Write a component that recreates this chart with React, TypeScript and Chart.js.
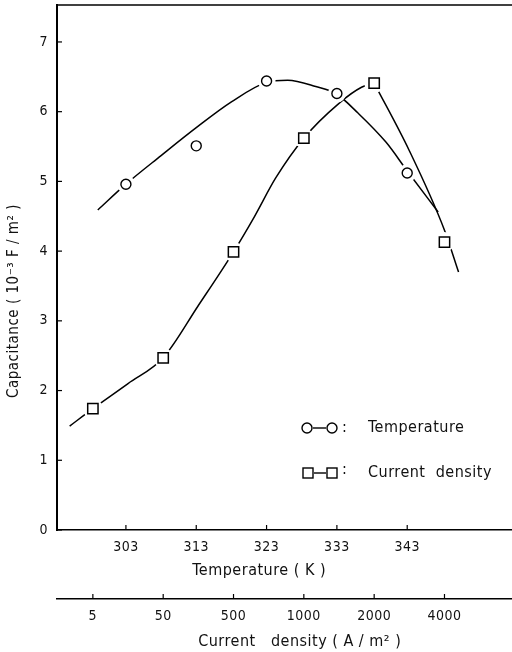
import React, { useEffect, useRef } from 'react';
import { Chart, registerables } from 'chart.js';

Chart.register(...registerables);

// ---- data ----
const temperatureTicks = [303, 313, 323, 333, 343];
const capacitanceTicks = [0, 1, 2, 3, 4, 5, 6, 7];
const currentDensityLabels = ['5', '50', '500', '1000', '2000', '4000'];

const temperatures = [303, 313, 323, 333, 343];
const tempCapacitance = [4.96, 5.51, 6.44, 6.26, 5.12];

const currentIndex = [0, 1, 2, 3, 4, 5];
const currentCapacitance = [1.74, 2.47, 3.99, 5.62, 6.41, 4.13];

// hand-drawn fitted curves
const tempFitX = [299.0, 303, 308, 313, 318, 323, 326, 330, 333, 336, 340, 343, 347.4];
const tempFitY = [4.59, 4.96, 5.37, 5.77, 6.14, 6.42, 6.45, 6.36, 6.25, 5.98, 5.56, 5.15, 4.56];

const currentRiseX = [-0.33, 0, 0.5, 1, 1.5, 2, 2.3, 2.6, 3, 3.5, 3.82, 4];
const currentRiseY = [1.49, 1.74, 2.1, 2.47, 3.22, 3.99, 4.5, 5.05, 5.62, 6.12, 6.35, 6.41];
const currentFallX = [4, 4.5, 5, 5.2];
const currentFallY = [6.41, 5.44, 4.3, 3.7];

const FONT = '"DejaVu Sans Condensed", "DejaVu Sans", sans-serif';
const INK = '#111';
const NB = '\u00A0';

const pts = (xs: number[], ys: number[]) => xs.map((x, i) => ({ x, y: ys[i] }));

const noPad = (s: any) => {
  s.paddingLeft = 0;
  s.paddingRight = 0;
  s.paddingTop = 0;
  s.paddingBottom = 0;
};

const framePlugin = {
  id: 'frame',
  beforeDraw(chart: any) {
    const ctx = chart.ctx;
    ctx.save();
    ctx.fillStyle = '#fff';
    ctx.fillRect(0, 0, chart.width, chart.height);
    ctx.restore();
    ctx.letterSpacing = '0.5px';
  },
  afterDraw(chart: any) {
    const ctx = chart.ctx;
    const area = chart.chartArea;
    ctx.save();
    ctx.strokeStyle = '#000';
    ctx.lineWidth = 1.5;
    // top frame line
    ctx.beginPath();
    ctx.moveTo(area.left - 1, area.top);
    ctx.lineTo(area.right, area.top);
    ctx.stroke();
    // inward tick marks
    ctx.lineWidth = 1.2;
    const ys = chart.scales.y;
    ys.ticks.forEach((t: any) => {
      const p = ys.getPixelForValue(t.value);
      ctx.beginPath();
      ctx.moveTo(area.left, p);
      ctx.lineTo(area.left + 5, p);
      ctx.stroke();
    });
    ['x', 'x2'].forEach((id) => {
      const s = chart.scales[id];
      s.ticks.forEach((t: any) => {
        const p = s.getPixelForValue(t.value);
        ctx.beginPath();
        ctx.moveTo(p, s.top);
        ctx.lineTo(p, s.top - 5);
        ctx.stroke();
      });
    });

    // legend
    const drawCircle = (x: number, y: number) => {
      ctx.beginPath();
      ctx.arc(x, y, 5, 0, Math.PI * 2);
      ctx.stroke();
    };
    const drawSquare = (x: number, y: number) => {
      ctx.strokeRect(x - 5, y - 5, 10, 10);
    };
    ctx.lineWidth = 1.4;
    const y1 = 428;
    drawCircle(307, y1);
    ctx.beginPath();
    ctx.moveTo(313, y1);
    ctx.lineTo(326, y1);
    ctx.stroke();
    drawCircle(332, y1);
    const y2 = 473;
    drawSquare(308, y2);
    ctx.beginPath();
    ctx.moveTo(314, y2);
    ctx.lineTo(326, y2);
    ctx.stroke();
    drawSquare(332, y2);
    ctx.fillStyle = INK;
    ctx.font = `16px ${FONT}`;
    ctx.letterSpacing = '0.5px';
    ctx.textBaseline = 'middle';
    ctx.textAlign = 'left';
    ctx.fillText(':', 342, y1);
    ctx.fillText('Temperature', 368, y1);
    ctx.fillText(':', 342, y2 - 3);
    ctx.fillText('Current  density', 368, y2);
    ctx.restore();
  },
};

export default function App() {
  const ref = useRef<HTMLCanvasElement>(null);

  useEffect(() => {
    if (!ref.current) return;
    const tickFont = { family: FONT, size: 14 };
    const fitLine = (data: any[], axis: string) => ({
      data,
      xAxisID: axis,
      yAxisID: 'y',
      borderColor: '#000',
      borderWidth: 1.5,
      pointRadius: 0,
      cubicInterpolationMode: 'monotone',
      fill: false,
      order: 3,
    });
    const chart = new Chart(ref.current, {
      type: 'line',
      data: {
        datasets: [
          { label: 'Temperature fit', ...fitLine(pts(tempFitX, tempFitY), 'x') },
          { label: 'Current density fit (rise)', ...fitLine(pts(currentRiseX, currentRiseY), 'x2') },
          { label: 'Current density fit (fall)', ...fitLine(pts(currentFallX, currentFallY), 'x2') },
          {
            label: 'Temperature halo',
            data: pts(temperatures, tempCapacitance),
            xAxisID: 'x',
            yAxisID: 'y',
            showLine: false,
            pointStyle: 'circle',
            pointRadius: 9,
            pointBackgroundColor: '#fff',
            pointBorderWidth: 0,
            pointBorderColor: '#fff',
            order: 2,
          },
          {
            label: 'Current density halo',
            data: pts(currentIndex, currentCapacitance),
            xAxisID: 'x2',
            yAxisID: 'y',
            showLine: false,
            pointStyle: 'circle',
            pointRadius: 10,
            pointBackgroundColor: '#fff',
            pointBorderWidth: 0,
            pointBorderColor: '#fff',
            order: 2,
          },
          {
            label: 'Temperature',
            data: pts(temperatures, tempCapacitance),
            xAxisID: 'x',
            yAxisID: 'y',
            showLine: false,
            pointStyle: 'circle',
            pointRadius: 5,
            pointBackgroundColor: '#fff',
            pointBorderColor: '#000',
            pointBorderWidth: 1.4,
            order: 1,
          },
          {
            label: 'Current density',
            data: pts(currentIndex, currentCapacitance),
            xAxisID: 'x2',
            yAxisID: 'y',
            showLine: false,
            pointStyle: 'rect',
            pointRadius: 7.3,
            pointBackgroundColor: '#fff',
            pointBorderColor: '#000',
            pointBorderWidth: 1.5,
            order: 1,
          },
        ],
      },
      options: {
        responsive: false,
        animation: false,
        devicePixelRatio: 1,
        layout: { autoPadding: false, padding: { top: 5, left: 0, right: 0, bottom: 0 } },
        plugins: {
          legend: { display: false },
          tooltip: { enabled: false },
        },
        scales: {
          y: {
            type: 'linear',
            position: 'left',
            min: 0,
            max: 7.53,
            afterBuildTicks: (s: any) => {
              s.ticks = capacitanceTicks.map((v) => ({ value: v }));
            },
            afterFit: (s: any) => {
              s.width = 57;
              noPad(s);
            },
            grid: { display: false, drawTicks: false },
            border: { display: true, color: '#000', width: 2 },
            ticks: { color: INK, font: tickFont, padding: 9 },
            title: {
              display: true,
              text: 'Capacitance ( 10⁻³ F / m² )' + NB.repeat(14),
              color: INK,
              font: { family: FONT, size: 15, lineHeight: 1.2 },
              padding: { top: 5, bottom: 0 },
            },
          },
          x: {
            type: 'linear',
            position: 'bottom',
            min: 293.2,
            max: 357.9,
            weight: 0,
            afterBuildTicks: (s: any) => {
              s.ticks = temperatureTicks.map((v) => ({ value: v }));
            },
            afterFit: (s: any) => {
              s.height = 69;
              noPad(s);
            },
            grid: { display: false, drawTicks: false },
            border: { display: true, color: '#000', width: 1.5 },
            ticks: { color: INK, font: tickFont, padding: 9, maxRotation: 0 },
            title: {
              display: true,
              text: 'Temperature ( K )' + NB.repeat(10),
              color: INK,
              font: { family: FONT, size: 16, lineHeight: 1.2 },
              padding: { top: 0, bottom: 19 },
            },
          },
          x2: {
            type: 'linear',
            position: 'bottom',
            min: -0.51,
            max: 5.96,
            weight: 1,
            afterBuildTicks: (s: any) => {
              s.ticks = currentIndex.map((v) => ({ value: v }));
            },
            afterFit: (s: any) => {
              s.height = 53;
              noPad(s);
            },
            grid: { display: false, drawTicks: false },
            border: { display: true, color: '#000', width: 1.5 },
            ticks: {
              color: INK,
              font: tickFont,
              padding: 9,
              maxRotation: 0,
              callback: (v: any) => currentDensityLabels[Math.round(Number(v))] ?? '',
            },
            title: {
              display: true,
              text: NB.repeat(6) + 'Current   density ( A / m² )',
              color: INK,
              font: { family: FONT, size: 16, lineHeight: 1.0 },
              padding: { top: 0, bottom: 2 },
            },
          },
        },
      },
      plugins: [framePlugin],
    } as any);
    return () => chart.destroy();
  }, []);

  return (
    <div style={{ position: 'absolute', left: 0, top: 0, width: 512, height: 652, background: '#fff' }}>
      <canvas ref={ref} width={512} height={652} style={{ display: 'block', width: 512, height: 652 }} />
    </div>
  );
}
